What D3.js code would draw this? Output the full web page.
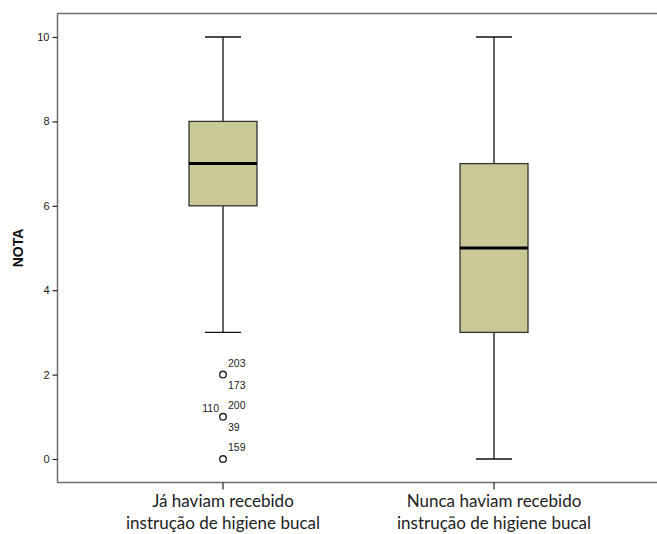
<!DOCTYPE html>
<html><head><meta charset="utf-8">
<script src="https://cdn.jsdelivr.net/npm/d3@7"></script>
<style>body{margin:0;background:#fff}svg{display:block}</style>
</head><body>
<script>
const categories = ["Já haviam recebido\ninstrução de higiene bucal", "Nunca haviam recebido\ninstrução de higiene bucal"];
const whiskerLow = [3, 0];
const q1 = [6, 3];
const medians = [7, 5];
const q3 = [8, 7];
const whiskerHigh = [10, 10];
const outlierValues = [2, 1, 0];
const outlierLabels = [["203", "173"], ["110", "200", "39"], ["159"]];
const yTicks = [0, 2, 4, 6, 8, 10];
const yLabel = "NOTA";

(function () {
const W = 657, H = 534;
const svg = d3.select("body").append("svg").attr("width", W).attr("height", H);
const mLeft = 57.5, mTop = 13.5, mBottom = 482.5;
const y = d3.scaleLinear().domain([0, 10]).range([459, 37]);
const x = d3.scaleBand().domain(categories).range([87.5, 629.5]);
const cx = i => x(categories[i]) + x.bandwidth() / 2;
const boxW = 68, capW = 36;
const frame = "#6e6e6e";

svg.append("path").attr("d", `M${W},${mTop}H${mLeft}V${mBottom}H${W}`)
  .attr("fill", "none").attr("stroke", frame).attr("stroke-width", 1.5);

const ya = svg.append("g").attr("transform", `translate(${mLeft},0)`)
  .call(d3.axisLeft(y).tickValues(yTicks).tickSize(5).tickPadding(3));
ya.select(".domain").remove();
ya.selectAll("line").attr("stroke", "#222").attr("stroke-width", 1.2);
ya.selectAll("text").attr("font-family", "Arial, 'Liberation Sans', sans-serif").attr("font-size", 11).attr("fill", "#222");

const xa = svg.append("g").attr("transform", `translate(0,${mBottom})`)
  .call(d3.axisBottom(x).tickSize(7).tickFormat(""));
xa.select(".domain").remove();
xa.selectAll("line").attr("stroke", "#222").attr("stroke-width", 1.2);

categories.forEach((c, i) => {
  const t = svg.append("text").attr("text-anchor", "middle")
    .attr("font-family", "Lato, 'Open Sans', sans-serif").attr("font-size", 17).attr("fill", "#222");
  c.split("\n").forEach((ln, k) => t.append("tspan").attr("x", cx(i)).attr("y", 507 + k * 22).text(ln));
});

svg.append("text").attr("transform", `translate(23,${y(5)}) rotate(-90)`)
  .attr("text-anchor", "middle").attr("font-family", "Arial, 'Liberation Sans', sans-serif")
  .attr("font-weight", "bold").attr("font-size", 14).attr("fill", "#111").text(yLabel);

categories.forEach((c, i) => {
  const g = svg.append("g");
  const xc = cx(i);
  g.append("line").attr("x1", xc).attr("x2", xc).attr("y1", y(whiskerHigh[i])).attr("y2", y(q3[i])).attr("stroke", "#111").attr("stroke-width", 1.3);
  g.append("line").attr("x1", xc).attr("x2", xc).attr("y1", y(q1[i])).attr("y2", y(whiskerLow[i])).attr("stroke", "#111").attr("stroke-width", 1.3);
  [whiskerHigh[i], whiskerLow[i]].forEach(v => g.append("line").attr("x1", xc - capW / 2).attr("x2", xc + capW / 2)
    .attr("y1", y(v)).attr("y2", y(v)).attr("stroke", "#111").attr("stroke-width", 1.3));
  g.append("rect").attr("x", xc - boxW / 2).attr("width", boxW).attr("y", y(q3[i])).attr("height", y(q1[i]) - y(q3[i]))
    .attr("fill", "#cbc898").attr("stroke", "#333").attr("stroke-width", 1.3);
  g.append("line").attr("x1", xc - boxW / 2).attr("x2", xc + boxW / 2).attr("y1", y(medians[i])).attr("y2", y(medians[i]))
    .attr("stroke", "#000").attr("stroke-width", 3);
});

const ox = cx(0);
const f = s => s.attr("font-family", "Arial, 'Liberation Sans', sans-serif").attr("font-size", 10.5).attr("fill", "#222");
outlierValues.forEach((v, k) => {
  svg.append("circle").attr("cx", ox).attr("cy", y(v)).attr("r", 3.3).attr("fill", "none").attr("stroke", "#222").attr("stroke-width", 1.4);
  const labs = outlierLabels[k];
  if (labs.length === 1) {
    f(svg.append("text").attr("x", ox + 5).attr("y", y(v) - 8).text(labs[0]));
  } else if (labs.length === 2) {
    f(svg.append("text").attr("x", ox + 5).attr("y", y(v) - 8).text(labs[0]));
    f(svg.append("text").attr("x", ox + 5).attr("y", y(v) + 14).text(labs[1]));
  } else {
    f(svg.append("text").attr("x", ox - 4).attr("y", y(v) - 5).attr("text-anchor", "end").text(labs[0]));
    f(svg.append("text").attr("x", ox + 5).attr("y", y(v) - 8).text(labs[1]));
    f(svg.append("text").attr("x", ox + 5).attr("y", y(v) + 14).text(labs[2]));
  }
});
})();
</script>
</body></html>
